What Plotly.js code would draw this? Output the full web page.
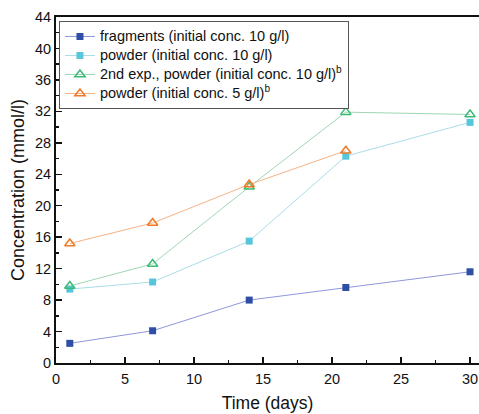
<!DOCTYPE html>
<html>
<head>
<meta charset="utf-8">
<script src="https://cdn.plot.ly/plotly-3.0.1.min.js"></script>
<style>
  html, body { margin: 0; padding: 0; background: #fff; }
  #chart { width: 479px; height: 414px; }
  /* legend rows are packed tightly; the entry text itself stays larger */
  .legendtext { font-size: 14.5px !important; }
</style>
</head>
<body>
<div id="chart"></div>
<script>
// Sampling days
const days = [1, 7, 14, 21, 30];
const daysFive = [1, 7, 14, 21];

// Measured concentrations (mmol/l)
const fragments10 = [2.5, 4.1, 8.0, 9.6, 11.6];
const powder10 = [9.4, 10.3, 15.5, 26.3, 30.6];
const powder10Second = [9.8, 12.6, 22.4, 31.9, 31.6];
const powder5 = [15.2, 17.8, 22.7, 27.0];

const names = [
  'fragments (initial conc. 10 g/l)',
  'powder (initial conc. 10 g/l)',
  '2nd exp., powder (initial conc. 10 g/l)<sup>b</sup>',
  'powder (initial conc. 5 g/l)<sup>b</sup>'
];

const font = 'Liberation Sans, Arial, sans-serif';

const traces = [
  {
    x: days, y: fragments10, name: names[0], mode: 'lines+markers',
    line: { color: '#8f97d8', width: 1 },
    marker: { symbol: 'square', size: 7, color: '#2f4ea6' }
  },
  {
    x: days, y: powder10, name: names[1], mode: 'lines+markers',
    line: { color: '#a9dde9', width: 1 },
    marker: { symbol: 'square', size: 7, color: '#58c6da' }
  },
  {
    x: days, y: powder10Second, name: names[2], mode: 'lines+markers',
    line: { color: '#9fd8b2', width: 1 },
    marker: { symbol: 'triangle-up-open', size: 9, color: '#3dba78', line: { width: 1.5 } }
  },
  {
    x: daysFive, y: powder5, name: names[3], mode: 'lines+markers',
    line: { color: '#f6b386', width: 1 },
    marker: { symbol: 'triangle-up-open', size: 9, color: '#f07a28', line: { width: 1.5 } }
  }
];

const layout = {
  width: 479, height: 414,
  margin: { l: 56, r: 0, t: 17, b: 51 },
  paper_bgcolor: '#fff', plot_bgcolor: '#fff',
  font: { family: font, color: '#111', size: 14.5 },
  showlegend: true,
  legend: {
    x: 0.007, y: 0.9885, xanchor: 'left', yanchor: 'top',
    bgcolor: '#fff', bordercolor: '#555', borderwidth: 1,
    font: { family: font, size: 11.5, color: '#111' },
    tracegroupgap: 0
  },
  xaxis: {
    range: [0, 30.65], showgrid: false, zeroline: false,
    showline: true, linecolor: '#111', linewidth: 2, mirror: true,
    ticks: 'inside', ticklen: 6, tickwidth: 1.5, tickcolor: '#111',
    tickvals: [0, 5, 10, 15, 20, 25, 30],
    minor: { dtick: 2.5, tick0: 0, ticks: 'inside', ticklen: 3, tickwidth: 1.5, tickcolor: '#111' },
    tickfont: { size: 14.5 }, ticklabelstandoff: 2,
    title: { text: 'Time (days)', font: { size: 17.5 }, standoff: 10 }
  },
  yaxis: {
    range: [0, 44], showgrid: false, zeroline: false,
    showline: true, linecolor: '#111', linewidth: 2,
    ticks: 'inside', ticklen: 6, tickwidth: 1.5, tickcolor: '#111',
    tickvals: [0, 4, 8, 12, 16, 20, 24, 28, 32, 36, 40, 44],
    minor: { dtick: 2, tick0: 0, ticks: 'inside', ticklen: 3, tickwidth: 1.5, tickcolor: '#111' },
    tickfont: { size: 14.5 }, ticklabelstandoff: 0,
    title: { text: 'Concentration (mmol/l)', font: { size: 18 }, standoff: 6 }
  }
};

Plotly.newPlot('chart', traces, layout, { displayModeBar: false, staticPlot: true });
</script>
</body>
</html>
